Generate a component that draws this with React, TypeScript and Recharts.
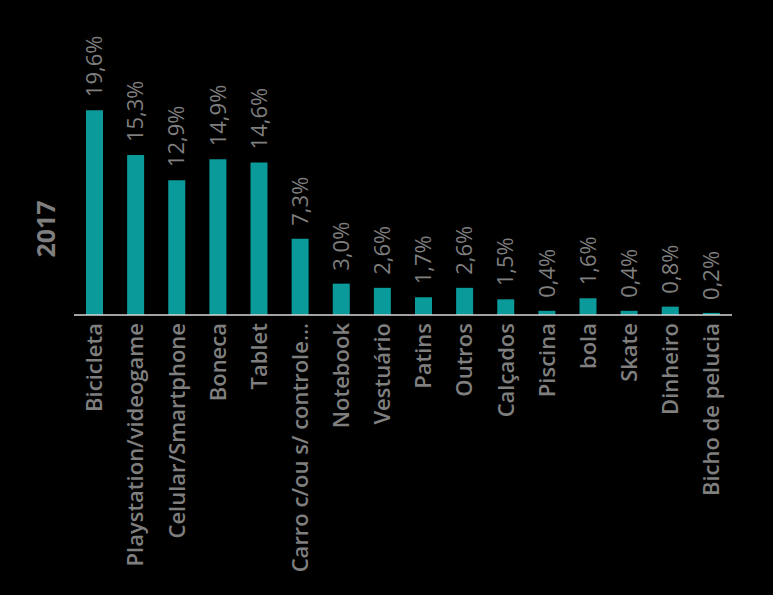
import { BarChart, Bar, XAxis, YAxis, LabelList } from 'recharts';

const categories = [
  'Bicicleta',
  'Playstation/videogame',
  'Celular/Smartphone',
  'Boneca',
  'Tablet',
  'Carro c/ou s/ controle...',
  'Notebook',
  'Vestuário',
  'Patins',
  'Outros',
  'Calçados',
  'Piscina',
  'bola',
  'Skate',
  'Dinheiro',
  'Bicho de pelucia',
];

const values2017 = [19.6, 15.3, 12.9, 14.9, 14.6, 7.3, 3.0, 2.6, 1.7, 2.6, 1.5, 0.4, 1.6, 0.4, 0.8, 0.2];

const yearLabel = '2017';

const data = categories.map((name, i) => ({ name, value: values2017[i] }));

const GRAY = '#7f7f7f';
const TEAL = '#0a9a9a';
const FONT = '"Open Sans", sans-serif';

const CategoryTick = (props: any) => {
  const { x, y, payload } = props;
  return (
    <g transform={`translate(${x},${y})`}>
      <text
        transform="rotate(-90)"
        x={0}
        y={0}
        dy="0.35em"
        textAnchor="end"
        fill={GRAY}
        fontFamily={FONT}
        fontWeight={600}
        fontSize={22}
      >
        {payload.value}
      </text>
    </g>
  );
};

const ValueLabel = (props: any) => {
  const { x, y, width, value } = props;
  const cx = x + width / 2;
  const ty = y - 13;
  return (
    <text
      transform={`translate(${cx},${ty}) rotate(-90)`}
      x={0}
      y={0}
      dy="0.35em"
      textAnchor="start"
      fill={GRAY}
      fontFamily={FONT}
      fontSize={22}
    >
      {value.toFixed(1).replace('.', ',') + '%'}
    </text>
  );
};

export default function App() {
  return (
    <div style={{ position: 'absolute', left: 0, top: 0, width: 773, height: 595, background: '#000' }}>
      <BarChart
        width={773}
        height={595}
        data={data}
        barCategoryGap={0}
        margin={{ top: 106, right: 41, left: 74, bottom: 0 }}
      >
        <XAxis
          dataKey="name"
          height={280}
          interval={0}
          tickLine={false}
          axisLine={{ stroke: '#d9d9d9', strokeWidth: 1.5 }}
          tick={<CategoryTick />}
        />
        <YAxis hide domain={[0, 20]} />
        <Bar dataKey="value" fill={TEAL} barSize={17} isAnimationActive={false}>
          <LabelList dataKey="value" content={<ValueLabel />} />
        </Bar>
        <text
          transform="translate(46,229) rotate(-90)"
          textAnchor="middle"
          dy="0.35em"
          fill={GRAY}
          fontFamily={FONT}
          fontWeight={700}
          fontSize={25}
        >
          {yearLabel}
        </text>
      </BarChart>
    </div>
  );
}
